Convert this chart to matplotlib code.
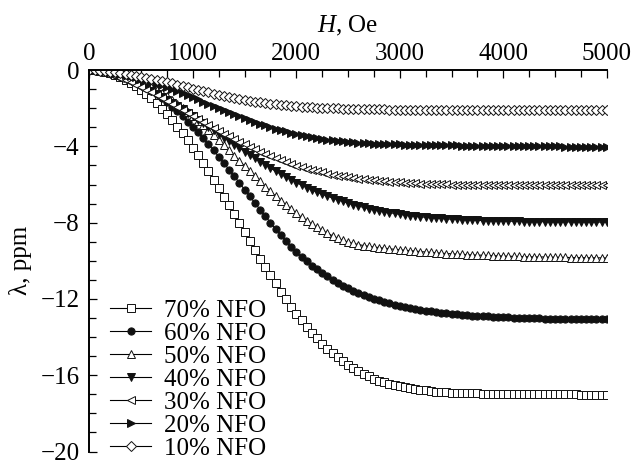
import numpy as np
import matplotlib
matplotlib.use("Agg")
import matplotlib.pyplot as plt
from matplotlib.ticker import MultipleLocator

plt.rcParams['font.family'] = ['Liberation Serif', 'DejaVu Serif']
plt.rcParams['mathtext.fontset'] = 'custom'
plt.rcParams['mathtext.rm'] = 'Liberation Serif'
plt.rcParams['mathtext.it'] = 'Liberation Serif:italic'

# field, Oe (step 50)
H = np.arange(0, 5001, 50)

# magnetostriction, ppm
nfo70 = [0, -0.01, -0.04, -0.09, -0.17, -0.26, -0.37, -0.51, -0.66, -0.84,
         -1.04, -1.25, -1.49, -1.75, -2.02, -2.32, -2.63, -2.97, -3.32, -3.69,
         -4.07, -4.47, -4.88, -5.31, -5.74, -6.19, -6.64, -7.10, -7.56, -8.03,
         -8.50, -8.97, -9.43, -9.89, -10.34, -10.77, -11.19, -11.62, -12.01, -12.40,
         -12.78, -13.13, -13.46, -13.78, -14.07, -14.35, -14.61, -14.85, -15.07, -15.27,
         -15.47, -15.64, -15.79, -15.94, -16.06, -16.18, -16.28, -16.37, -16.45, -16.52,
         -16.59, -16.64, -16.69, -16.73, -16.77, -16.80, -16.83, -16.86, -16.88, -16.90,
         -16.91, -16.92, -16.93, -16.94, -16.95, -16.95, -16.96, -16.96, -16.97, -16.97,
         -16.98, -16.98, -16.98, -16.99, -16.99, -16.99, -17.00, -17.00, -17.00, -17.00,
         -17.01, -17.01, -17.01, -17.01, -17.01, -17.02, -17.02, -17.02, -17.02, -17.02,
         -17.02]
nfo60 = [0, -0.01, -0.03, -0.07, -0.12, -0.19, -0.27, -0.37, -0.49, -0.61,
         -0.76, -0.92, -1.09, -1.28, -1.48, -1.70, -1.93, -2.17, -2.43, -2.70,
         -2.98, -3.27, -3.58, -3.89, -4.21, -4.54, -4.88, -5.22, -5.57, -5.91,
         -6.27, -6.62, -6.97, -7.32, -7.66, -8.00, -8.33, -8.65, -8.96, -9.26,
         -9.55, -9.80, -10.03, -10.25, -10.45, -10.64, -10.82, -10.99, -11.15, -11.30,
         -11.44, -11.57, -11.69, -11.80, -11.90, -11.99, -12.08, -12.16, -12.23, -12.30,
         -12.36, -12.42, -12.47, -12.52, -12.57, -12.61, -12.65, -12.68, -12.72, -12.75,
         -12.78, -12.80, -12.83, -12.85, -12.87, -12.89, -12.91, -12.92, -12.94, -12.95,
         -12.96, -12.97, -12.98, -12.99, -13.00, -13.01, -13.02, -13.02, -13.03, -13.03,
         -13.04, -13.04, -13.05, -13.05, -13.05, -13.06, -13.06, -13.06, -13.07, -13.07,
         -13.07]
nfo50 = [0, -0.01, -0.02, -0.06, -0.10, -0.15, -0.22, -0.30, -0.39, -0.50,
         -0.62, -0.75, -0.89, -1.04, -1.20, -1.38, -1.57, -1.77, -1.97, -2.19,
         -2.42, -2.66, -2.90, -3.15, -3.41, -3.67, -3.94, -4.21, -4.48, -4.76,
         -5.03, -5.31, -5.58, -5.84, -6.11, -6.36, -6.61, -6.85, -7.08, -7.30,
         -7.51, -7.72, -7.90, -8.08, -8.25, -8.41, -8.55, -8.69, -8.81, -8.93,
         -9.02, -9.09, -9.15, -9.20, -9.24, -9.28, -9.31, -9.34, -9.37, -9.40,
         -9.42, -9.45, -9.47, -9.49, -9.52, -9.54, -9.56, -9.58, -9.60, -9.62,
         -9.63, -9.65, -9.66, -9.68, -9.69, -9.70, -9.71, -9.72, -9.73, -9.74,
         -9.75, -9.76, -9.77, -9.77, -9.78, -9.79, -9.79, -9.80, -9.80, -9.81,
         -9.81, -9.82, -9.82, -9.83, -9.83, -9.83, -9.84, -9.84, -9.84, -9.85,
         -9.85]
nfo40 = [0, -0.02, -0.06, -0.12, -0.19, -0.27, -0.36, -0.46, -0.57, -0.69,
         -0.82, -0.95, -1.09, -1.24, -1.39, -1.55, -1.71, -1.88, -2.06, -2.24,
         -2.42, -2.60, -2.78, -2.97, -3.16, -3.35, -3.54, -3.72, -3.91, -4.09,
         -4.27, -4.45, -4.63, -4.80, -4.97, -5.14, -5.30, -5.46, -5.61, -5.76,
         -5.90, -6.03, -6.16, -6.28, -6.40, -6.51, -6.61, -6.71, -6.80, -6.89,
         -6.98, -7.06, -7.13, -7.20, -7.26, -7.32, -7.37, -7.42, -7.47, -7.52,
         -7.56, -7.60, -7.63, -7.66, -7.69, -7.72, -7.74, -7.76, -7.78, -7.80,
         -7.82, -7.83, -7.84, -7.85, -7.87, -7.88, -7.89, -7.90, -7.90, -7.91,
         -7.92, -7.92, -7.93, -7.93, -7.94, -7.94, -7.94, -7.95, -7.95, -7.95,
         -7.96, -7.96, -7.96, -7.96, -7.96, -7.96, -7.97, -7.97, -7.97, -7.97,
         -7.97]
nfo30 = [0, -0.03, -0.08, -0.15, -0.23, -0.32, -0.42, -0.53, -0.65, -0.77,
         -0.89, -1.02, -1.16, -1.30, -1.45, -1.60, -1.76, -1.92, -2.08, -2.24,
         -2.39, -2.55, -2.71, -2.87, -3.03, -3.18, -3.33, -3.48, -3.62, -3.76,
         -3.90, -4.03, -4.16, -4.28, -4.40, -4.52, -4.63, -4.73, -4.83, -4.92,
         -5.01, -5.09, -5.17, -5.24, -5.31, -5.37, -5.43, -5.48, -5.53, -5.58,
         -5.62, -5.66, -5.70, -5.73, -5.76, -5.79, -5.81, -5.83, -5.85, -5.87,
         -5.89, -5.91, -5.92, -5.93, -5.95, -5.96, -5.97, -5.98, -5.98, -5.99,
         -6.00, -6.00, -6.01, -6.01, -6.02, -6.02, -6.02, -6.02, -6.03, -6.03,
         -6.03, -6.03, -6.03, -6.04, -6.04, -6.04, -6.04, -6.04, -6.04, -6.04,
         -6.04, -6.05, -6.05, -6.05, -6.05, -6.05, -6.05, -6.05, -6.05, -6.05,
         -6.05]
nfo20 = [0, -0.01, -0.03, -0.06, -0.10, -0.14, -0.19, -0.25, -0.31, -0.38,
         -0.46, -0.54, -0.62, -0.71, -0.80, -0.90, -1.00, -1.10, -1.21, -1.32,
         -1.43, -1.54, -1.65, -1.76, -1.87, -1.99, -2.10, -2.21, -2.32, -2.43,
         -2.53, -2.63, -2.72, -2.81, -2.90, -2.99, -3.07, -3.15, -3.22, -3.29,
         -3.36, -3.42, -3.47, -3.52, -3.57, -3.61, -3.65, -3.68, -3.71, -3.74,
         -3.77, -3.79, -3.81, -3.83, -3.85, -3.86, -3.87, -3.88, -3.88, -3.89,
         -3.90, -3.91, -3.91, -3.92, -3.92, -3.93, -3.93, -3.94, -3.94, -3.95,
         -3.95, -3.95, -3.96, -3.96, -3.96, -3.97, -3.97, -3.97, -3.98, -3.98,
         -3.98, -3.98, -3.99, -3.99, -3.99, -3.99, -3.99, -4.00, -4.00, -4.00,
         -4.00, -4.00, -4.01, -4.01, -4.01, -4.01, -4.01, -4.02, -4.02, -4.02,
         -4.02]
nfo10 = [0, -0.01, -0.03, -0.05, -0.08, -0.12, -0.16, -0.21, -0.25, -0.30,
         -0.35, -0.40, -0.46, -0.52, -0.58, -0.64, -0.70, -0.77, -0.84, -0.91,
         -0.97, -1.04, -1.10, -1.17, -1.23, -1.29, -1.35, -1.41, -1.46, -1.51,
         -1.56, -1.61, -1.65, -1.69, -1.73, -1.76, -1.79, -1.82, -1.85, -1.88,
         -1.90, -1.92, -1.94, -1.95, -1.97, -1.98, -1.99, -2.00, -2.01, -2.02,
         -2.03, -2.04, -2.04, -2.05, -2.05, -2.06, -2.06, -2.06, -2.07, -2.07,
         -2.07, -2.07, -2.07, -2.07, -2.07, -2.07, -2.07, -2.07, -2.08, -2.08,
         -2.08, -2.08, -2.08, -2.08, -2.08, -2.08, -2.08, -2.08, -2.08, -2.08,
         -2.08, -2.08, -2.08, -2.08, -2.08, -2.08, -2.08, -2.08, -2.08, -2.08,
         -2.09, -2.09, -2.09, -2.09, -2.09, -2.09, -2.09, -2.09, -2.09, -2.09,
         -2.09]

labels = ['70% NFO', '60% NFO', '50% NFO', '40% NFO', '30% NFO', '20% NFO', '10% NFO']
series = [nfo70, nfo60, nfo50, nfo40, nfo30, nfo20, nfo10]
markers = ['s', 'o', '^', 'v', '<', '>', 'D']
filled = [False, True, False, True, False, True, False]
msizes = [5.2, 5.2, 6, 6, 6, 6, 5]

fs = 18

fig = plt.figure(figsize=(6.34, 4.61), dpi=100)
ax = fig.add_axes([0.141, 0.0206, 0.816, 0.8274])

for y, lab, m, f, ms in zip(series, labels, markers, filled, msizes):
    ax.plot(H, y, color='black', lw=0.8, marker=m, ms=ms, mew=0.7,
            mec='#111111', mfc='#111111' if f else 'white', label=lab)

ax.set_xlim(0, 5000)
ax.set_ylim(-20, 0)
ax.spines['bottom'].set_visible(False)
ax.spines['right'].set_visible(False)
ax.spines['left'].set_linewidth(1.4)
ax.spines['top'].set_linewidth(1.4)

ax.xaxis.set_major_locator(MultipleLocator(1000))
ax.xaxis.set_minor_locator(MultipleLocator(250))
ax.yaxis.set_major_locator(MultipleLocator(4))
ax.yaxis.set_minor_locator(MultipleLocator(1))
ax.xaxis.tick_top()
ax.xaxis.set_label_position('top')
ax.tick_params(which='both', direction='in', width=0.9, labelsize=fs)
ax.tick_params(axis='x', pad=4)
ax.tick_params(axis='y', pad=7)
ax.tick_params(which='major', length=6)
ax.tick_params(which='minor', length=5)
ax.tick_params(axis='x', which='both', bottom=False, top=True)
ax.tick_params(axis='y', which='both', left=True, right=False)

ax.set_xlabel('$H$, Oe', fontsize=fs, labelpad=7)
ax.set_ylabel('λ, ppm', fontsize=fs, labelpad=6)

ax.legend(loc='lower left', bbox_to_anchor=(0.04, -0.022), frameon=False,
          fontsize=fs, numpoints=1, handlelength=1.65, handletextpad=0.5,
          labelspacing=0.02, borderpad=0, borderaxespad=0)

fig.savefig('out.png', dpi=100)
